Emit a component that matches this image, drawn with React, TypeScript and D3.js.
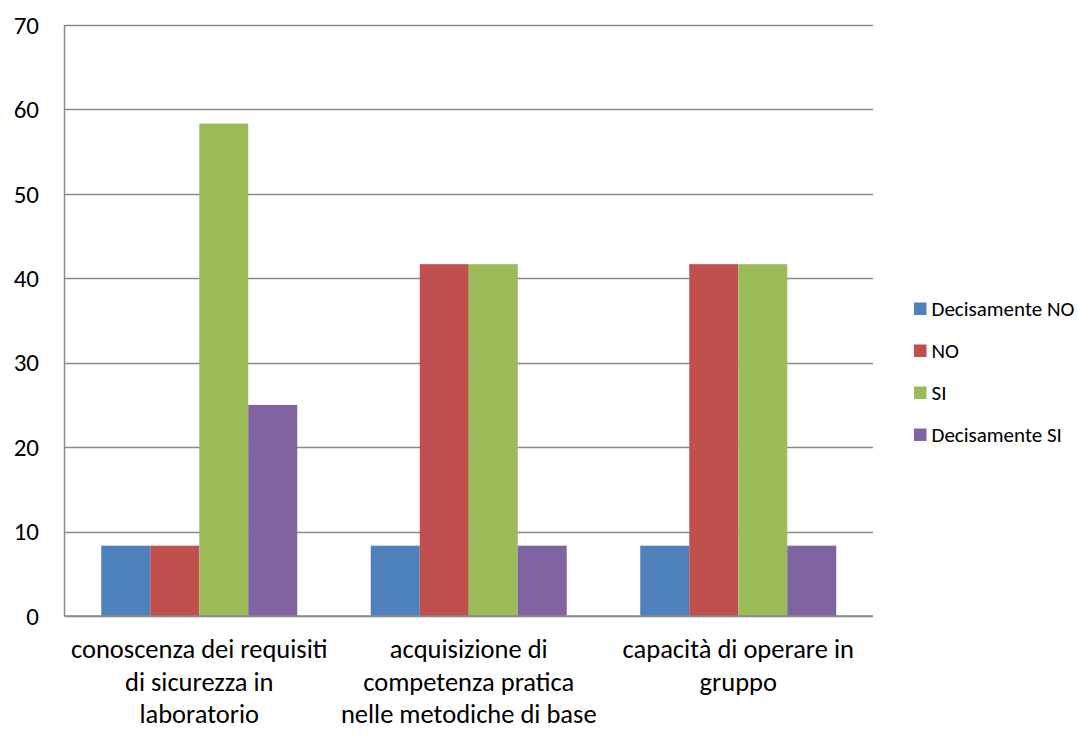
import { scaleBand, scaleLinear } from "d3";

const categories = [
  ["conoscenza dei requisiti", "di sicurezza in", "laboratorio"],
  ["acquisizione di", "competenza pratica", "nelle metodiche di base"],
  ["capacità di operare in", "gruppo"]
];
const seriesNames = ["Decisamente NO", "NO", "SI", "Decisamente SI"];
const seriesColors = ["#4F81BD", "#C0504D", "#9BBB59", "#8064A2"];
const values = [
  [8.33, 8.33, 58.33, 25],
  [8.33, 41.67, 41.67, 8.33],
  [8.33, 41.67, 41.67, 8.33]
];
const yTicks = [0, 10, 20, 30, 40, 50, 60, 70];

const width = 1078;
const height = 742;
const plot = { left: 64.5, right: 873, top: 25, bottom: 616 };
const font = "Calibri, Carlito, 'Open Sans', sans-serif";

export default function App(): React.JSX.Element {
  const x = scaleBand<number>()
    .domain(categories.map((_, i) => i))
    .range([plot.left, plot.right]);
  const inner = scaleBand<number>()
    .domain(seriesNames.map((_, i) => i))
    .range([0, x.bandwidth()])
    .paddingOuter(0.75);
  const y = scaleLinear().domain([0, 70]).range([plot.bottom, plot.top]);

  return (
    <svg
      width={width}
      height={height}
      style={{ position: "absolute", left: 0, top: 0, background: "#fff" }}
      fontFamily={font}
    >
      {yTicks.map((t) => (
        <g key={t}>
          <line
            x1={plot.left}
            x2={plot.right}
            y1={Math.round(y(t)) + 0.5}
            y2={Math.round(y(t)) + 0.5}
            stroke="#8a8a8a"
            strokeWidth={1.5}
          />
          <text x={39} y={y(t)} dy="0.35em" textAnchor="end" fontSize={25} fill="#000">
            {t}
          </text>
        </g>
      ))}
      {values.map((group, gi) =>
        group.map((v, si) => (
          <rect
            key={`${gi}-${si}`}
            x={(x(gi) ?? 0) + (inner(si) ?? 0)}
            y={y(v)}
            width={inner.bandwidth()}
            height={y(0) - y(v)}
            fill={seriesColors[si]}
          />
        ))
      )}
      <line x1={plot.left} x2={plot.left} y1={plot.top} y2={plot.bottom} stroke="#8a8a8a" strokeWidth={1.5} />
      <line x1={plot.left} x2={plot.right} y1={plot.bottom} y2={plot.bottom} stroke="#8a8a8a" strokeWidth={1.5} />
      {categories.map((lines, gi) => (
        <text
          key={gi}
          x={(x(gi) ?? 0) + x.bandwidth() / 2}
          y={658}
          textAnchor="middle"
          fontSize={26.5}
          fill="#000"
        >
          {lines.map((l, li) => (
            <tspan key={li} x={(x(gi) ?? 0) + x.bandwidth() / 2} dy={li === 0 ? 0 : 32.5}>
              {l}
            </tspan>
          ))}
        </text>
      ))}
      {seriesNames.map((name, si) => (
        <g key={name} transform={`translate(914, ${308.5 + si * 42})`}>
          <rect x={0} y={-6} width={12.5} height={12.5} fill={seriesColors[si]} />
          <text x={17.5} y={0} dy="0.35em" fontSize={21} fill="#000">
            {name}
          </text>
        </g>
      ))}
    </svg>
  );
}
